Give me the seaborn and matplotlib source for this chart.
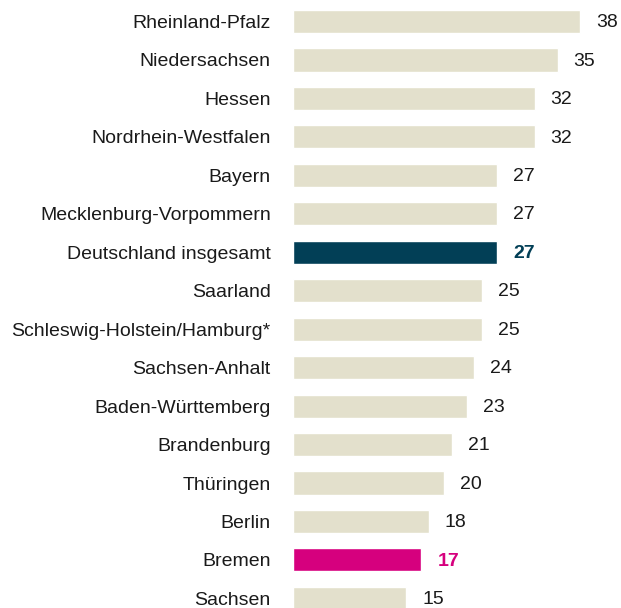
import matplotlib
matplotlib.use('Agg')
import matplotlib.pyplot as plt
import seaborn as sns
import pandas as pd

# Data
regions = ['Rheinland-Pfalz', 'Niedersachsen', 'Hessen', 'Nordrhein-Westfalen', 'Bayern',
           'Mecklenburg-Vorpommern', 'Deutschland insgesamt', 'Saarland',
           'Schleswig-Holstein/Hamburg*', 'Sachsen-Anhalt', 'Baden-Württemberg',
           'Brandenburg', 'Thüringen', 'Berlin', 'Bremen', 'Sachsen']
values = [38, 35, 32, 32, 27, 27, 27, 25, 25, 24, 23, 21, 20, 18, 17, 15]

beige = '#e3e0cc'
highlight = {'Deutschland insgesamt': '#023f56', 'Bremen': '#d6007e'}
colors = [highlight.get(r, beige) for r in regions]

df = pd.DataFrame({'region': regions, 'value': values})

sns.set_style('white')
plt.rcParams['font.family'] = ['Liberation Sans', 'DejaVu Sans']

fig = plt.figure(figsize=(6.21, 6.08), dpi=100)
ax = fig.add_axes([293 / 621, 0, 1 - 293 / 621, 1])

sns.barplot(data=df, x='value', y='region', hue='region', palette=colors,
            legend=False, width=0.6, saturation=1, ax=ax)

# value labels next to the bars
for i, (r, v) in enumerate(zip(regions, values)):
    c = highlight.get(r)
    ax.text(v + 2.1, i + 0.03, str(v), va='center', ha='left', fontsize=14,
            color=c if c else '#1a1a1a', fontweight='bold' if c else 'normal')

ax.set_xlim(0, 43.4)
ax.set_ylim(15.25, -0.56)
ax.set_xlabel('')
ax.set_ylabel('')
ax.set_xticks([])
ax.tick_params(axis='y', length=0, pad=16, labelsize=14, labelcolor='#1a1a1a')
sns.despine(ax=ax, left=True, bottom=True)

plt.savefig('out.png', dpi=100)
